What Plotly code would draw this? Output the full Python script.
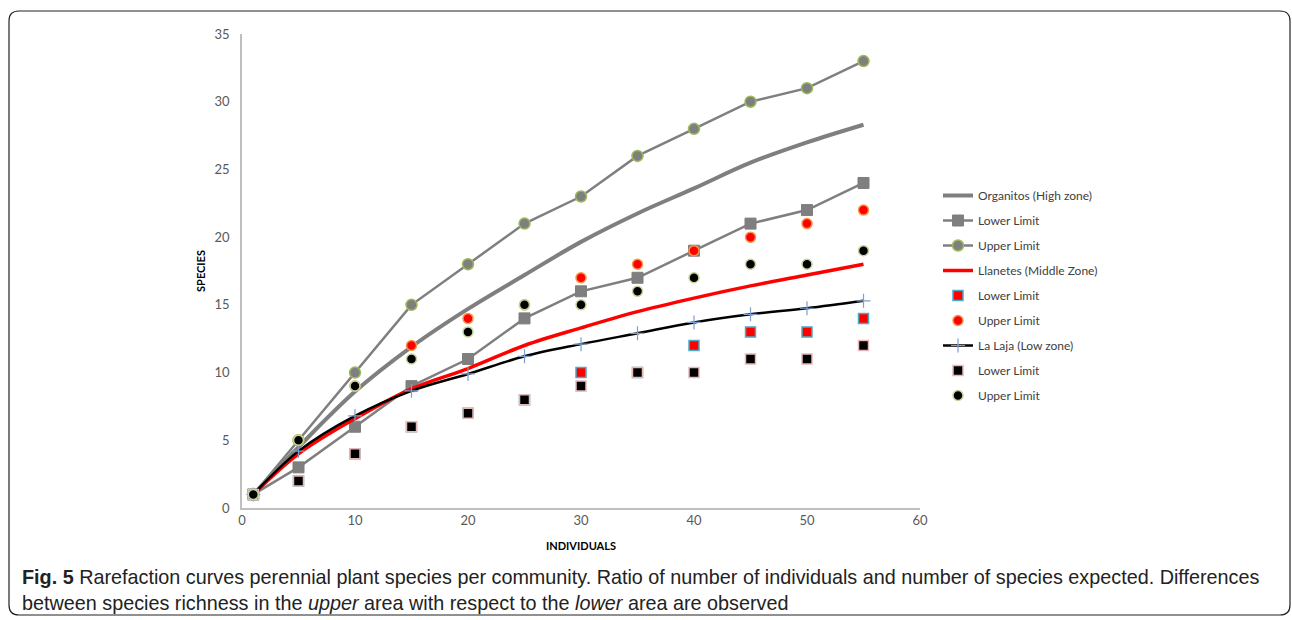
import plotly.graph_objects as go

individuals = [1, 5, 10, 15, 20, 25, 30, 35, 40, 45, 50, 55]

organitos = [1, 4.5, 8.6, 11.9, 14.7, 17.2, 19.65, 21.75, 23.6, 25.5, 27.0, 28.3]
organitos_lower = [1, 3, 6, 9, 11, 14, 16, 17, 19, 21, 22, 24]
organitos_upper = [1, 5, 10, 15, 18, 21, 23, 26, 28, 30, 31, 33]

llanetes = [1, 4.0, 6.6, 8.8, 10.3, 12.0, 13.3, 14.5, 15.5, 16.4, 17.2, 18.0]
llanetes_lower = [1, 2, 4, 6, 7, 8, 10, 10, 12, 13, 13, 14]
llanetes_upper = [1, 5, 9, 12, 14, 15, 17, 18, 19, 20, 21, 22]

lalaja = [1, 4.2, 6.8, 8.65, 9.9, 11.2, 12.1, 12.9, 13.7, 14.3, 14.75, 15.3]
lalaja_lower = [1, 2, 4, 6, 7, 8, 9, 10, 10, 11, 11, 12]
lalaja_upper = [1, 5, 9, 11, 13, 15, 15, 16, 17, 18, 18, 19]

x_ticks = [0, 10, 20, 30, 40, 50, 60]
y_ticks = [0, 5, 10, 15, 20, 25, 30, 35]

GREY = "#7f7f7f"
fig = go.Figure()

def add(name, y, group, **kw):
    fig.add_trace(go.Scatter(x=individuals, y=y, name=name, legendgroup=group, **kw))

add("Organitos (High zone)", organitos, "g1", mode="lines",
    line=dict(color=GREY, width=4, shape="spline"))
add("Lower Limit", organitos_lower, "g2", mode="lines+markers",
    line=dict(color=GREY, width=2.5),
    marker=dict(symbol="square", size=11, color=GREY, line=dict(color=GREY, width=1)))
add("Upper Limit", organitos_upper, "g3", mode="lines+markers",
    line=dict(color=GREY, width=2.5),
    marker=dict(symbol="circle", size=11, color=GREY, line=dict(color="#9bbb59", width=1.5)))
add("Llanetes (Middle Zone)", llanetes, "g4", mode="lines",
    line=dict(color="#ff0000", width=3.5, shape="spline"))
add("Lower Limit", llanetes_lower, "g5", mode="markers",
    marker=dict(symbol="square", size=10, color="#ff0000", line=dict(color="#4bacc6", width=1.5)))
add("Upper Limit", llanetes_upper, "g6", mode="markers",
    marker=dict(symbol="circle", size=10, color="#ff0000", line=dict(color="#f79646", width=1.5)))
add("La Laja (Low zone)", lalaja, "g7", mode="lines+markers",
    line=dict(color="#000000", width=2.5, shape="spline"),
    marker=dict(symbol="cross-thin", size=10, color="#7f9fcf", line=dict(color="#7f9fcf", width=1.2)))
add("Lower Limit", lalaja_lower, "g8", mode="markers",
    marker=dict(symbol="square", size=10, color="#000000", line=dict(color="#e6b9b8", width=1.5)))
add("Upper Limit", lalaja_upper, "g9", mode="markers",
    marker=dict(symbol="circle", size=10, color="#000000", line=dict(color="#c3d69b", width=1.5)))

L, R, T, B = 242, 920, 34, 508
W, H = 1292, 620

def px(x):
    return (x - L) / (R - L)

def py(y):
    return (B - y) / (B - T)

fig.update_layout(
    width=W, height=H,
    margin=dict(l=L, r=W - R, t=T, b=H - B),
    paper_bgcolor="white", plot_bgcolor="white",
    font=dict(family="Lato, Open Sans, sans-serif", color="#595959", size=13),
    showlegend=True,
    legend=dict(x=px(938), y=py(181), xanchor="left", yanchor="top",
                font=dict(size=12, color="#404040", family="Lato, Open Sans, sans-serif"),
                tracegroupgap=6, bgcolor="rgba(0,0,0,0)"),
    xaxis=dict(range=[0, 60], tickvals=x_ticks, showgrid=False, zeroline=False,
               showline=True, linecolor="#bfbfbf", linewidth=1.5, ticks="",
               tickfont=dict(size=13, color="#595959"),
               title=dict(text="<b>INDIVIDUALS</b>", font=dict(size=11, color="#000000"), standoff=15)),
    yaxis=dict(range=[0, 35], tickvals=y_ticks, showgrid=False, zeroline=False,
               showline=True, linecolor="#bfbfbf", linewidth=1.5, ticks="",
               tickfont=dict(size=13, color="#595959"), ticklabelstandoff=8,
               title=dict(text="<b>SPECIES</b>", font=dict(size=11, color="#000000"), standoff=7)),
)

# outer rounded frame
x0, x1, y0, y1, r = px(9), px(1290), py(11), py(615), 10
rx = r / (R - L)
ry = r / (B - T)
path = (f"M {x0+rx},{y0} L {x1-rx},{y0} Q {x1},{y0} {x1},{y0-ry} "
        f"L {x1},{y1+ry} Q {x1},{y1} {x1-rx},{y1} L {x0+rx},{y1} "
        f"Q {x0},{y1} {x0},{y1+ry} L {x0},{y0-ry} Q {x0},{y0} {x0+rx},{y0} Z")
fig.add_shape(type="path", path=path, xref="paper", yref="paper",
              line=dict(color="#222222", width=1.2), layer="below")

cap_font = dict(family="Liberation Sans, Arial, sans-serif", size=19.8, color="#222222")
fig.add_annotation(x=px(20), y=py(577), xref="paper", yref="paper", xanchor="left", yanchor="middle",
                   showarrow=False, font=cap_font,
                   text="<b>Fig. 5</b> Rarefaction curves perennial plant species per community. Ratio of number of individuals and number of species expected. Differences")
fig.add_annotation(x=px(20), y=py(603), xref="paper", yref="paper", xanchor="left", yanchor="middle",
                   showarrow=False, font=cap_font,
                   text="between species richness in the <i>upper</i> area with respect to the <i>lower</i> area are observed")

fig.write_html("out.html", config={"displayModeBar": False},
               post_script="document.body.style.margin='0';document.body.style.overflow='hidden';")
